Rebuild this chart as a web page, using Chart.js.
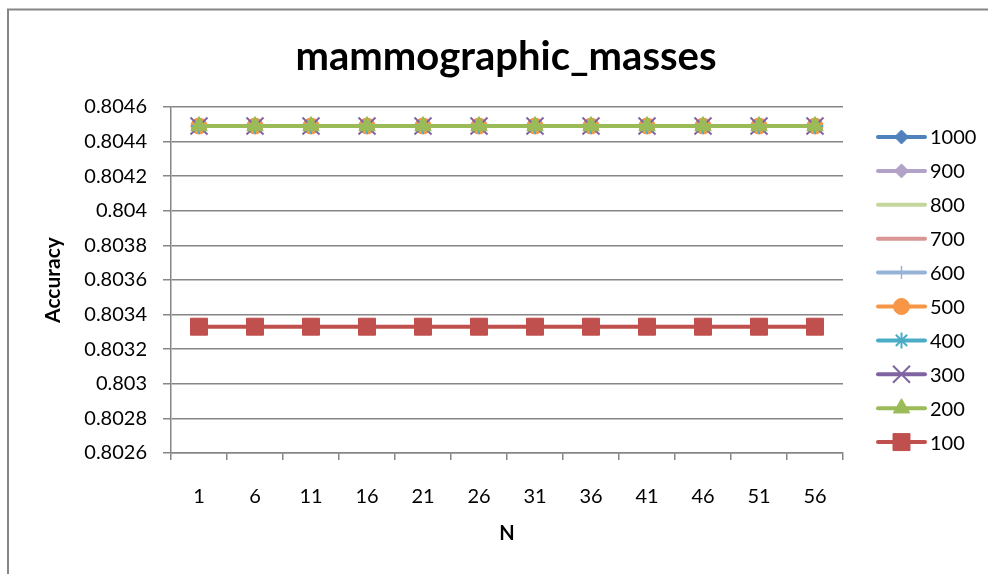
<!DOCTYPE html>
<html>
<head>
<meta charset="utf-8">
<title>mammographic_masses</title>
<script src="https://cdn.jsdelivr.net/npm/chart.js@4/dist/chart.umd.min.js"></script>
<style>
  html, body { margin: 0; padding: 0; background: #fff; }
  #wrap { width: 988px; height: 574px; position: relative; }
</style>
</head>
<body>
<div id="wrap"><canvas id="chart"></canvas></div>
<script>
// x categories (N) and y axis tick values
const nValues = ["1", "6", "11", "16", "21", "26", "31", "36", "41", "46", "51", "56"];
const yTicks = [0.8026, 0.8028, 0.803, 0.8032, 0.8034, 0.8036, 0.8038, 0.804, 0.8042, 0.8044, 0.8046];

// accuracy per N for each setting
const acc1000 = [0.80449, 0.80449, 0.80449, 0.80449, 0.80449, 0.80449, 0.80449, 0.80449, 0.80449, 0.80449, 0.80449, 0.80449];
const acc900  = [0.80449, 0.80449, 0.80449, 0.80449, 0.80449, 0.80449, 0.80449, 0.80449, 0.80449, 0.80449, 0.80449, 0.80449];
const acc800  = [0.80449, 0.80449, 0.80449, 0.80449, 0.80449, 0.80449, 0.80449, 0.80449, 0.80449, 0.80449, 0.80449, 0.80449];
const acc700  = [0.80449, 0.80449, 0.80449, 0.80449, 0.80449, 0.80449, 0.80449, 0.80449, 0.80449, 0.80449, 0.80449, 0.80449];
const acc600  = [0.80449, 0.80449, 0.80449, 0.80449, 0.80449, 0.80449, 0.80449, 0.80449, 0.80449, 0.80449, 0.80449, 0.80449];
const acc500  = [0.80449, 0.80449, 0.80449, 0.80449, 0.80449, 0.80449, 0.80449, 0.80449, 0.80449, 0.80449, 0.80449, 0.80449];
const acc400  = [0.80449, 0.80449, 0.80449, 0.80449, 0.80449, 0.80449, 0.80449, 0.80449, 0.80449, 0.80449, 0.80449, 0.80449];
const acc300  = [0.80449, 0.80449, 0.80449, 0.80449, 0.80449, 0.80449, 0.80449, 0.80449, 0.80449, 0.80449, 0.80449, 0.80449];
const acc200  = [0.80449, 0.80449, 0.80449, 0.80449, 0.80449, 0.80449, 0.80449, 0.80449, 0.80449, 0.80449, 0.80449, 0.80449];
const acc100  = [0.80333, 0.80333, 0.80333, 0.80333, 0.80333, 0.80333, 0.80333, 0.80333, 0.80333, 0.80333, 0.80333, 0.80333];

const FONT = "Lato, 'Open Sans', sans-serif";

function series(label, data, color, style, radius, bw, order) {
  return {
    label: label,
    data: data,
    borderColor: color,
    backgroundColor: color,
    borderWidth: 4,
    pointStyle: style,
    pointRadius: style ? radius : 0,
    pointHoverRadius: style ? radius : 0,
    pointBackgroundColor: color,
    pointBorderColor: color,
    pointBorderWidth: bw,
    order: order,
    tension: 0
  };
}

const datasets = [
  series("1000", acc1000, "#4F81BD", "rectRot", 7, 1, 10),
  series("900",  acc900,  "#B3A2C7", "rectRot", 7, 1, 9),
  series("800",  acc800,  "#C3D69B", false, 0, 1, 8),
  series("700",  acc700,  "#D99694", false, 0, 1, 7),
  series("600",  acc600,  "#95B3D7", "cross", 6.5, 1.5, 6),
  series("500",  acc500,  "#F79646", "circle", 8, 1, 5),
  series("400",  acc400,  "#4BACC6", "star", 8, 2, 4),
  series("300",  acc300,  "#8064A2", "crossRot", 12, 2, 3),
  series("200",  acc200,  "#9BBB59", "triangle", 9.5, 1, 2),
  series("100",  acc100,  "#C0504D", "rect", 12, 1, 1)
];

// white background and the outer frame
const frame = {
  id: 'frame',
  beforeDraw(chart) {
    const ctx = chart.ctx;
    ctx.save();
    ctx.fillStyle = '#fff';
    ctx.fillRect(0, 0, chart.width, chart.height);
    ctx.strokeStyle = '#868686';
    ctx.lineWidth = 2;
    ctx.strokeRect(8, 9.5, chart.width + 20, chart.height + 20);
    ctx.restore();
  }
};

function drawLegend(chart, box) {
  const ctx = chart.ctx;
  const x0 = box.left + 35;
  const y0 = box.top + 30;
  const step = 33.9;
  ctx.save();
  chart.data.datasets.forEach((ds, i) => {
    const y = y0 + i * step;
    ctx.strokeStyle = ds.borderColor;
    ctx.lineWidth = 4;
    ctx.lineCap = 'round';
    ctx.beginPath();
    ctx.moveTo(x0, y);
    ctx.lineTo(x0 + 47, y);
    ctx.stroke();
    if (ds.pointStyle) {
      ctx.fillStyle = ds.pointBackgroundColor;
      ctx.strokeStyle = ds.pointBorderColor;
      ctx.lineWidth = ds.pointBorderWidth;
      ctx.lineCap = 'butt';
      Chart.helpers.drawPoint(ctx, {
        pointStyle: ds.pointStyle,
        radius: ds.pointRadius,
        rotation: 0,
        borderWidth: ds.pointBorderWidth
      }, x0 + 23.5, y);
    }
    ctx.fillStyle = '#000';
    ctx.font = "20px " + FONT;
    ctx.textBaseline = 'middle';
    ctx.textAlign = 'left';
    ctx.fillText(ds.label, x0 + 52, y + 1);
  });
  ctx.restore();
}

// legend column on the right, added as a layout box so it takes its own space
const sideLegend = {
  id: 'sideLegend',
  beforeInit(chart) {
    Chart.layouts.addBox(chart, {
      position: 'right',
      weight: 100,
      fullSize: false,
      options: {},
      width: 0,
      height: 0,
      isHorizontal() { return false; },
      update(maxWidth, maxHeight) { this.width = 145; this.height = maxHeight; },
      draw() { drawLegend(chart, this); }
    });
  }
};

new Chart(document.getElementById("chart"), {
  type: 'line',
  data: {
    labels: nValues,
    datasets: datasets
  },
  options: {
    responsive: true,
    maintainAspectRatio: false,
    animation: false,
    events: [],
    layout: { padding: { left: 24, right: 0, top: 0, bottom: 0 } },
    plugins: {
      legend: { display: false },
      tooltip: { enabled: false },
      title: {
        display: true,
        text: 'mammographic_masses',
        color: '#000',
        font: { family: FONT, size: 40, weight: 'bold' },
        padding: { top: 33, bottom: 26 }
      }
    },
    scales: {
      x: {
        offset: true,
        grid: {
          offset: true,
          drawOnChartArea: false,
          drawTicks: true,
          tickLength: 7,
          color: '#868686',
          lineWidth: 1.5
        },
        border: { display: true, color: '#868686', width: 1.5 },
        ticks: {
          color: '#000',
          font: { family: FONT, size: 20 },
          padding: 25,
          maxRotation: 0,
          autoSkip: false
        },
        title: {
          display: true,
          text: 'N',
          color: '#000',
          font: { family: FONT, size: 20, weight: 'bold' },
          padding: { top: 0, bottom: 28 }
        },
        afterFit(scale) { scale.height = 121; }
      },
      y: {
        min: 0.8026,
        max: 0.8046,
        afterBuildTicks(scale) {
          scale.ticks = yTicks.map(v => ({ value: v }));
        },
        grid: {
          color: '#868686',
          lineWidth: 1.5,
          tickLength: 8
        },
        border: { display: true, color: '#868686', width: 1.5 },
        ticks: {
          color: '#000',
          font: { family: FONT, size: 20 },
          padding: 16,
          callback: v => String(+v.toFixed(4))
        },
        title: {
          display: true,
          text: 'Accuracy',
          color: '#000',
          font: { family: FONT, size: 21, weight: 'bold' },
          padding: { top: 17, bottom: 0 }
        },
        afterFit(scale) { scale.width = 147; }
      }
    }
  },
  plugins: [frame, sideLegend]
});
</script>
</body>
</html>
